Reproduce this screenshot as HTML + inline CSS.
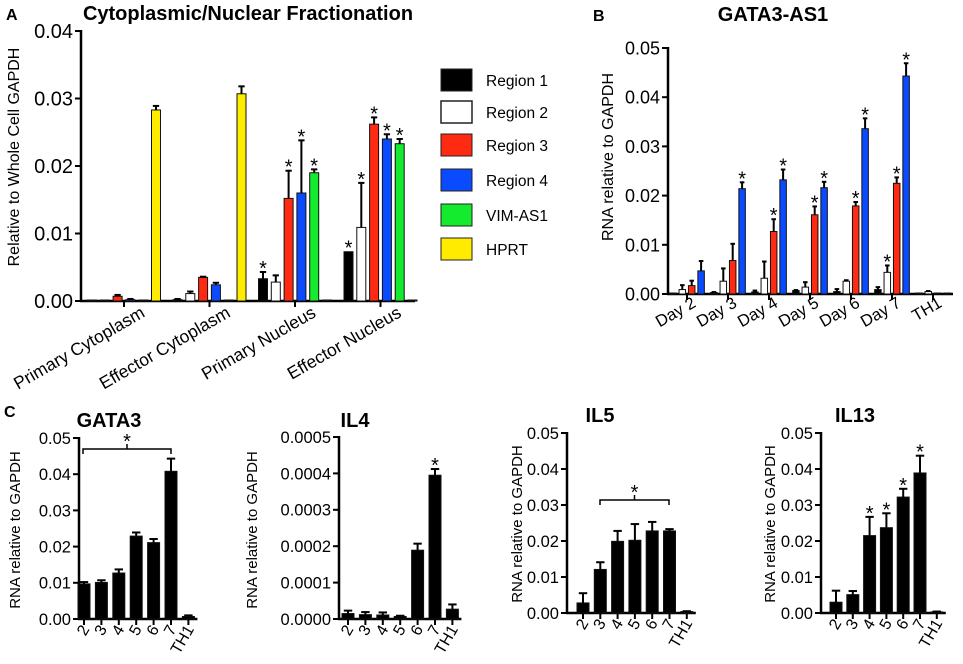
<!DOCTYPE html>
<html><head><meta charset="utf-8"><style>
html,body{margin:0;padding:0;background:#fff;}
svg{display:block;font-family:"Liberation Sans",Arial,sans-serif;}
</style></head><body>
<svg id="fig" width="963" height="664" viewBox="0 0 963 664">
<g>
<text x="6" y="20" font-size="16" font-weight="bold">A</text>
<text x="248" y="20" font-size="20" font-weight="bold" text-anchor="middle">Cytoplasmic/Nuclear Fractionation</text>
<text transform="translate(19,157) rotate(-90)" font-size="16" text-anchor="middle">Relative to Whole Cell GAPDH</text>
</g>
<g>
<rect x="441" y="69" width="31" height="22" fill="#000" stroke="#222"/>
<text x="486" y="86" font-size="15.5">Region 1</text>
<rect x="441" y="101" width="31" height="22" fill="#fff" stroke="#222" stroke-width="1.5"/>
<text x="486" y="118" font-size="15.5">Region 2</text>
<rect x="441" y="134" width="31" height="22" fill="#ff2a12" stroke="#222"/>
<text x="486" y="151" font-size="15.5">Region 3</text>
<rect x="441" y="169" width="31" height="22" fill="#0b4bff" stroke="#222"/>
<text x="486" y="186" font-size="15.5">Region 4</text>
<rect x="441" y="204" width="31" height="22" fill="#14eb2e" stroke="#222"/>
<text x="486" y="221" font-size="15.5">VIM-AS1</text>
<rect x="441" y="238" width="31" height="22" fill="#ffeb00" stroke="#222"/>
<text x="486" y="255" font-size="15.5">HPRT</text>
</g>
<g>
<text x="593" y="21" font-size="16" font-weight="bold">B</text>
<text x="773" y="21" font-size="20" font-weight="bold" text-anchor="middle">GATA3-AS1</text>
<text transform="translate(613,157) rotate(-90)" font-size="16" text-anchor="middle">RNA relative to GAPDH</text>
</g>
<g>
<text x="4" y="417" font-size="16" font-weight="bold">C</text>
<text x="109" y="427" font-size="20" font-weight="bold" text-anchor="middle">GATA3</text>
<text x="355" y="427" font-size="20" font-weight="bold" text-anchor="middle">IL4</text>
<text x="600" y="422" font-size="20" font-weight="bold" text-anchor="middle">IL5</text>
<text x="855" y="422" font-size="20" font-weight="bold" text-anchor="middle">IL13</text>
<text transform="translate(20,530) rotate(-90)" font-size="15" text-anchor="middle">RNA relative to GAPDH</text>
<text transform="translate(257,530) rotate(-90)" font-size="15" text-anchor="middle">RNA relative to GAPDH</text>
<text transform="translate(522,524) rotate(-90)" font-size="15" text-anchor="middle">RNA relative to GAPDH</text>
<text transform="translate(775,524) rotate(-90)" font-size="15" text-anchor="middle">RNA relative to GAPDH</text>
</g>
</svg>
<script>
// ---- Panel A data ----
const aCategories = ["Primary Cytoplasm","Effector Cytoplasm","Primary Nucleus","Effector Nucleus"];
const aSeriesNames = ["Region 1","Region 2","Region 3","Region 4","VIM-AS1","HPRT"];
const aRegion1 = [0.0000,0.0002,0.0033,0.0073];
const aRegion2 = [0.0000,0.0011,0.0028,0.0109];
const aRegion3 = [0.0007,0.0035,0.0152,0.0262];
const aRegion4 = [0.0002,0.0024,0.0160,0.0240];
const aVim = [0.0000,0.0000,0.0190,0.0233];
const aHprt = [0.0283,0.0307,0.0001,0.0001];
const aErr1 = [0,0.0001,0.0010,0];
const aErr2 = [0,0.0003,0.0010,0.0066];
const aErr3 = [0.0002,0.0001,0.0041,0.0010];
const aErr4 = [0.0001,0.0003,0.0078,0.0007];
const aErrVim = [0,0,0.0005,0.0007];
const aErrHprt = [0.0006,0.0011,0,0];
const aStars = [[0,0,0,0,0,0],[0,0,0,0,0,0],[1,0,1,1,1,0],[1,1,1,1,1,0]];
const aTicks = ["0.00","0.01","0.02","0.03","0.04"];
// ---- Panel B data ----
const bCategories = ["Day 2","Day 3","Day 4","Day 5","Day 6","Day 7","TH1"];
const bRegion1 = [0.0001,0.0003,0.0004,0.0007,0.0005,0.0009,0.0001];
const bRegion2 = [0.0009,0.0026,0.0032,0.0014,0.0026,0.0044,0.0005];
const bRegion3 = [0.0017,0.0068,0.0127,0.0161,0.0179,0.0225,0.0000];
const bRegion4 = [0.0047,0.0214,0.0232,0.0216,0.0336,0.0443,0.0001];
const bErr1 = [0,0.0001,0.0003,0.0001,0.0005,0.0005,0];
const bErr2 = [0.0009,0.0026,0.0034,0.0010,0.0002,0.0014,0.0001];
const bErr3 = [0.0010,0.0034,0.0025,0.0017,0.0008,0.0012,0];
const bErr4 = [0.0020,0.0013,0.0021,0.0012,0.0021,0.0026,0];
const bStars = [[0,0,0,0],[0,0,0,1],[0,0,1,1],[0,0,1,1],[0,0,1,1],[0,1,1,1],[0,0,0,0]];
const bTicks = ["0.00","0.01","0.02","0.03","0.04","0.05"];
// ---- Panel C data ----
const cCategories = ["2","3","4","5","6","7","TH1"];
const gata3Values = [0.0097,0.0101,0.0127,0.0229,0.0211,0.0408,0.0007];
const gata3Errors = [0.0005,0.0006,0.0010,0.0010,0.0010,0.0035,0.0003];
const il4Values = [0.000015,0.000012,0.000011,0.000007,0.000189,0.000395,0.000027];
const il4Errors = [0.000008,0.000007,0.000007,0.000002,0.000018,0.000017,0.000013];
const il5Values = [0.0028,0.0121,0.0199,0.0202,0.0228,0.0228,0.0004];
const il5Errors = [0.0027,0.0020,0.0029,0.0045,0.0025,0.0005,0.0001];
const il13Values = [0.0030,0.0051,0.0215,0.0237,0.0322,0.0389,0.0003];
const il13Errors = [0.0032,0.0010,0.0052,0.0040,0.0023,0.0048,0.0001];
const il13Stars = [0,0,1,1,1,1,0];
const il4Stars = [0,0,0,0,0,1,0];
const cTicks005 = ["0.00","0.01","0.02","0.03","0.04","0.05"];
const il4Ticks = ["0.0000","0.0001","0.0002","0.0003","0.0004","0.0005"];

const NS = "http://www.w3.org/2000/svg";
const svg = document.getElementById('fig');
function mk(tag, attrs, parent){
  const e = document.createElementNS(NS, tag);
  for (const k in attrs) e.setAttribute(k, attrs[k]);
  (parent||svg).appendChild(e);
  return e;
}

function axes(g, x0, y0, yTop, xEnd, ticks, maxV, fs, prefix){
  const ys = v => y0 - (v / maxV) * (y0 - yTop);
  const yl = mk('line',{x1:x0,y1:y0+1,x2:x0,y2:yTop-1,stroke:'#000','stroke-width':2.5},g);
  
  
  const xl = mk('line',{x1:x0-1,y1:y0,x2:xEnd,y2:y0,stroke:'#000','stroke-width':2.5},g);
  
  
  ticks.forEach((t,i)=>{
    const v = maxV * i / (ticks.length-1);
    const y = ys(v);
    const tl = mk('line',{x1:x0-6,y1:y,x2:x0,y2:y,stroke:'#000','stroke-width':2},g);
    
    
    const tx = mk('text',{x:x0-8,y:y+fs*0.36,'font-size':fs,'text-anchor':'end'},g);
    tx.textContent = t;
    
    
  });
  return ys;
}

function bar(g, cx, w, v, err, ys, fill, star, name){
  const y0 = ys(0), yt = ys(v);
  const r = mk('rect',{x:cx-w/2,y:Math.min(yt,y0-1),width:w,height:Math.max(1,y0-yt),fill:fill,stroke:'#111','stroke-width':1},g);
  
  
  let top = yt;
  if (err > 0){
    const ye = ys(v+err);
    const l = mk('line',{x1:cx,y1:yt,x2:cx,y2:ye,stroke:'#000','stroke-width':2},g);
    
    
    const c = mk('line',{x1:cx-w*0.35,y1:ye,x2:cx+w*0.35,y2:ye,stroke:'#000','stroke-width':2},g);
    
    
    top = ye;
  }
  if (star){
    const s = mk('text',{x:cx,y:top+3,'font-size':20,'text-anchor':'middle'},g);
    s.textContent = '*';
    
    
  }
}

function xLabel(g, x, y, txt, fs, angle, name){
  const t = mk('text',{x:0,y:0,'font-size':fs,'text-anchor':'end',transform:`translate(${x},${y}) rotate(${angle})`},g);
  t.textContent = txt;
  
  
}

// Panel A
(function(){
  const g = mk('g',{});
  
  
  const ys = axes(g, 81, 301, 31, 415, aTicks, 0.04, 20, 'panel-a');
  const series = [aRegion1,aRegion2,aRegion3,aRegion4,aVim,aHprt];
  const errs = [aErr1,aErr2,aErr3,aErr4,aErrVim,aErrHprt];
  const colors = ['#000','#fff','#ff2a12','#0b4bff','#14eb2e','#ffeb00'];
  aCategories.forEach((c,i)=>{
    const cx = 124 + i*85.5;
    const tk = mk('line',{x1:cx,y1:301,x2:cx,y2:307,stroke:'#000','stroke-width':2},g);
    
    
    series.forEach((s,j)=>{
      bar(g, cx + (j-2.5)*12.8, 9, s[i], errs[j][i], ys, colors[j], aStars[i][j], 'bar-a-'+i+'-'+j);
    });
    xLabel(g, cx+22, 316, c, 17.5, -30, 'panel-a-x-label');
  });
})();

// Panel B
(function(){
  const g = mk('g',{});
  
  
  const ys = axes(g, 668, 294, 48, 953, bTicks, 0.05, 18, 'panel-b');
  const series = [bRegion1,bRegion2,bRegion3,bRegion4];
  const errs = [bErr1,bErr2,bErr3,bErr4];
  const colors = ['#000','#fff','#ff2a12','#0b4bff'];
  bCategories.forEach((c,i)=>{
    const cx = 687 + i*41;
    const tk = mk('line',{x1:cx,y1:294,x2:cx,y2:300,stroke:'#000','stroke-width':2},g);
    
    
    series.forEach((s,j)=>{
      bar(g, cx + (j-1.5)*9.4, 6.5, s[i], errs[j][i], ys, colors[j], bStars[i][j], 'bar-b-'+i+'-'+j);
    });
    xLabel(g, cx+10, 306, c, 16.5, -30, 'panel-b-x-label');
  });
})();

// Panel C
function cChart(prefix, x0, y0, yTop, firstX, pitch, vals, errs, stars, ticks, maxV, tickFs){
  const g = mk('g',{});
  
  
  const xEnd = firstX + 6*pitch + 9;
  const ys = axes(g, x0, y0, yTop, xEnd, ticks, maxV, tickFs, prefix);
  cCategories.forEach((c,i)=>{
    const cx = firstX + i*pitch;
    const tk = mk('line',{x1:cx,y1:y0,x2:cx,y2:y0+6,stroke:'#000','stroke-width':2},g);
    
    
    bar(g, cx, 12, vals[i], errs[i], ys, '#000', stars ? stars[i] : 0, prefix+'-bar-'+c);
    xLabel(g, cx+6, y0+10, c, 16, -60, prefix+'-x-label');
  });
  return {g, ys};
}
function bracket(g, x1, x2, y, name){
  const p = mk('path',{d:`M${x1},${y+5} L${x1},${y} L${x2},${y} L${x2},${y+5} M${(x1+x2)/2},${y} L${(x1+x2)/2},${y-5}`,fill:'none',stroke:'#000','stroke-width':1.5},g);
  
  
  const s = mk('text',{x:(x1+x2)/2,y:y-1,'font-size':20,'text-anchor':'middle'},g);
  s.textContent = '*';
  
  
}
const cg1 = cChart('gata3', 79, 619, 438, 84, 17.4, gata3Values, gata3Errors, null, cTicks005, 0.05, 16.5);
bracket(cg1.g, 83, 171, 449, 'gata3-significance-bracket');
cChart('il4', 339, 619, 437, 348, 17.4, il4Values, il4Errors, il4Stars, il4Ticks, 0.0005, 16.5);
const cg3 = cChart('il5', 567, 613, 433, 583, 17.3, il5Values, il5Errors, null, cTicks005, 0.05, 16.5);
bracket(cg3.g, 600, 669, 500, 'il5-significance-bracket');
cChart('il13', 821, 613, 433, 836, 16.8, il13Values, il13Errors, il13Stars, cTicks005, 0.05, 16.5);
</script>
</body></html>
